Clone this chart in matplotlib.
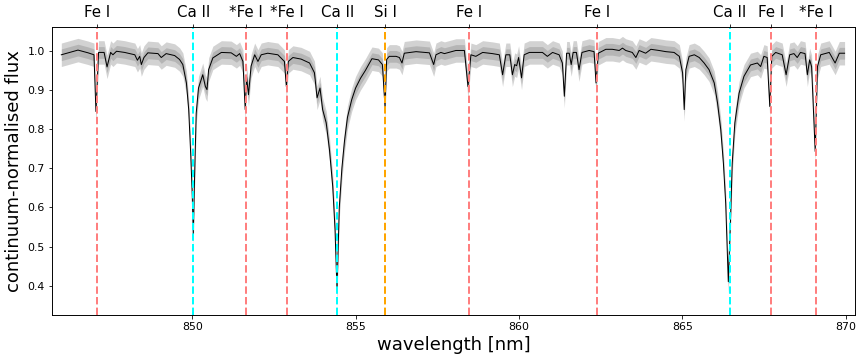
"""
Median stellar spectrum around the Ca II triplet, with line identifications.
"""

import numpy as np
import matplotlib.pyplot as plt

# Median spectrum (vacuum wavelength in nm, continuum-normalised flux)
WAVELENGTH = [
    845.99, 846.50, 846.81, 846.99, 847.05, 847.13, 847.30, 847.39, 847.50, 847.57,
    847.68, 847.93, 848.24, 848.32, 848.39, 848.44, 848.52, 848.64, 848.95, 849.05,
    849.20, 849.46, 849.61, 849.71, 849.82, 849.89, 849.95, 850.00, 850.03, 850.07,
    850.12, 850.19, 850.32, 850.40, 850.45, 850.50, 850.63, 850.89, 851.19, 851.35,
    851.45, 851.55, 851.62, 851.66, 851.72, 851.80, 851.91, 852.01, 852.11, 852.31,
    852.62, 852.82, 852.88, 852.94, 853.08, 853.33, 853.59, 853.74, 853.82, 853.91,
    853.99, 854.10, 854.20, 854.30, 854.37, 854.43, 854.50, 854.58, 854.66, 854.75,
    854.88, 855.00, 855.15, 855.30, 855.50, 855.70, 855.82, 855.90, 855.95, 856.03,
    856.24, 856.34, 856.42, 856.49, 856.85, 857.26, 857.39, 857.46, 857.61, 857.72,
    858.07, 858.33, 858.44, 858.53, 858.68, 858.89, 859.19, 859.40, 859.50, 859.60,
    859.72, 859.80, 859.87, 859.93, 859.99, 860.08, 860.16, 860.32, 860.72, 860.87,
    861.03, 861.23, 861.33, 861.39, 861.46, 861.54, 861.60, 861.66, 861.76, 861.84,
    861.93, 862.15, 862.30, 862.36, 862.43, 862.66, 862.86, 863.07, 863.17, 863.27,
    863.47, 863.58, 863.68, 863.88, 864.04, 864.29, 864.50, 864.75, 864.91, 865.01,
    865.06, 865.11, 865.21, 865.37, 865.52, 865.67, 865.82, 865.98, 866.08, 866.18,
    866.26, 866.33, 866.41, 866.48, 866.53, 866.61, 866.74, 866.89, 867.09, 867.30,
    867.40, 867.50, 867.60, 867.68, 867.74, 867.86, 868.06, 868.18, 868.29, 868.42,
    868.52, 868.62, 868.76, 868.83, 868.90, 868.96, 869.07, 869.14, 869.24, 869.50,
    869.68, 869.81, 869.97,
]
FLUX = [
    0.990, 1.002, 0.995, 0.990, 0.845, 0.996, 0.996, 0.959, 0.996, 0.990,
    0.999, 0.996, 0.990, 0.976, 0.986, 0.965, 0.983, 0.995, 0.993, 0.983,
    0.993, 0.988, 0.978, 0.965, 0.918, 0.850, 0.739, 0.628, 0.530, 0.679,
    0.841, 0.905, 0.939, 0.909, 0.901, 0.952, 0.982, 0.996, 0.995, 0.986,
    0.993, 0.973, 0.850, 0.935, 0.888, 0.961, 0.990, 0.973, 0.990, 0.994,
    0.990, 0.973, 0.909, 0.973, 0.983, 0.979, 0.969, 0.944, 0.880, 0.905,
    0.850, 0.816, 0.747, 0.653, 0.543, 0.389, 0.600, 0.700, 0.770, 0.830,
    0.875, 0.905, 0.930, 0.950, 0.980, 0.977, 0.965, 0.857, 0.978, 0.986,
    0.986, 0.983, 0.969, 0.994, 0.998, 0.995, 0.965, 0.990, 0.996, 0.993,
    1.001, 1.001, 0.909, 0.990, 0.986, 0.996, 0.993, 0.990, 0.939, 0.990,
    0.990, 0.939, 0.965, 0.962, 0.983, 0.931, 0.990, 0.996, 0.996, 0.986,
    0.996, 0.990, 0.969, 0.884, 0.994, 0.994, 0.965, 0.996, 0.996, 0.952,
    0.996, 1.001, 0.998, 0.918, 0.994, 1.004, 1.004, 1.001, 1.007, 1.001,
    0.996, 0.983, 1.001, 0.994, 1.004, 1.001, 0.998, 0.996, 0.986, 0.944,
    0.850, 0.952, 0.986, 0.990, 0.983, 0.969, 0.952, 0.918, 0.867, 0.798,
    0.713, 0.611, 0.410, 0.577, 0.713, 0.816, 0.892, 0.935, 0.964, 0.969,
    0.960, 0.986, 0.983, 0.858, 0.986, 0.996, 0.990, 0.939, 0.990, 0.993,
    0.983, 0.996, 0.993, 0.939, 0.977, 0.960, 0.743, 0.960, 0.990, 0.996,
    0.969, 0.994, 0.994,
]
# half-widths of the two percentile bands
SPREAD_INNER = 0.015
SPREAD_OUTER = 0.030

# Line identifications
LINE_WAVELENGTHS = [847.07, 850.035, 851.64, 852.90, 854.444, 855.91,
                    858.46, 862.40, 866.452, 867.71, 869.10]
LINE_LABELS = ['Fe I', 'Ca II', '*Fe I', '*Fe I', 'Ca II', 'Si I',
               'Fe I', 'Fe I', 'Ca II', 'Fe I', '*Fe I']
LINE_SPECIES = ['Fe', 'Ca', 'Fe', 'Fe', 'Ca', 'Si',
                'Fe', 'Fe', 'Ca', 'Fe', 'Fe']

XTICKS = [850, 855, 860, 865, 870]


def main():
    colors = {'Fe': '#ff7f7f', 'Ca': '#00ffff', 'Si': '#ffa500'}

    wl = np.array(WAVELENGTH)
    flux = np.array(FLUX)

    fig = plt.figure(figsize=(12, 5), dpi=72)
    ax = fig.add_axes([0.060, 0.125, 0.930, 0.800])

    ax.fill_between(wl, flux - SPREAD_OUTER, flux + SPREAD_OUTER,
                    color='gray', alpha=0.35, lw=0)
    ax.fill_between(wl, flux - SPREAD_INNER, flux + SPREAD_INNER,
                    color='gray', alpha=0.35, lw=0)
    ax.plot(wl, flux, color='k', lw=1)

    for w, sp in zip(LINE_WAVELENGTHS, LINE_SPECIES):
        ax.axvline(w, color=colors[sp], ls='--', lw=2)

    ax.set_xlim(845.7, 870.3)
    ax.set_ylim(0.325, 1.061)
    ax.set_xticks(XTICKS)
    ax.tick_params(labelsize=11)
    ax.set_xlabel('wavelength [nm]', fontsize=18)
    ax.set_ylabel('continuum-normalised flux', fontsize=18)

    # line labels on the top axis
    top = ax.twiny()
    top.set_xlim(ax.get_xlim())
    top.set_xticks(LINE_WAVELENGTHS)
    top.set_xticklabels(LINE_LABELS, fontsize=15)

    plt.savefig('out.png', dpi=72)
    plt.close()


if __name__ == "__main__":
    main()
